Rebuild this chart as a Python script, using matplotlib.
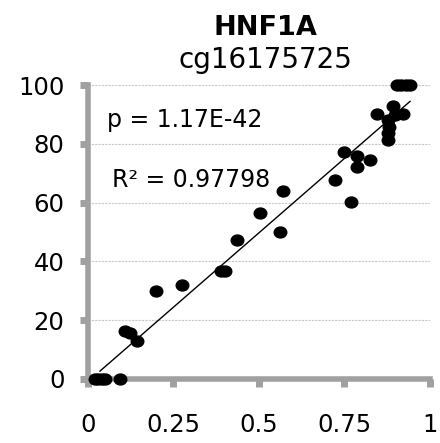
import numpy as np
import matplotlib.pyplot as plt
from matplotlib.path import Path

plt.rcParams['font.family'] = ['DejaVu Sans']

# methylation (x) vs percent (y)
beta = [0.02, 0.03, 0.04, 0.05, 0.094, 0.108, 0.123, 0.142, 0.20, 0.274,
        0.39, 0.40, 0.437, 0.503, 0.561, 0.571, 0.722, 0.75, 0.769, 0.786,
        0.788, 0.825, 0.844, 0.878, 0.878, 0.88, 0.878, 0.898, 0.893, 0.922,
        0.903, 0.915, 0.93, 0.942]
pct = [0, 0, 0, 0, 0, 16.4, 15.7, 12.8, 29.8, 31.9,
       36.7, 36.7, 47.3, 56.4, 49.9, 63.9, 67.7, 77.3, 60.3, 72.0,
       75.9, 74.5, 90.0, 81.3, 83.7, 85.8, 88.1, 89.8, 92.9, 90.0,
       100, 100, 100, 100]
title = 'HNF1A'
probe = 'cg16175725'
p_text = 'p = 1.17E-42'
r2_text = 'R² = 0.97798'
xticks = [0, 0.25, 0.5, 0.75, 1]
yticks = [0, 20, 40, 60, 80, 100]

beta = np.array(beta)
pct = np.array(pct)

fig = plt.figure(figsize=(4.4, 4.43), dpi=100)
ax = fig.add_axes([0.2, 0.145, 0.777, 0.663])

gray = '#A0A0A0'
for v in yticks[1:]:
    ax.axhline(v, color='#C8C8C8', lw=0.8, ls=(0, (2, 1)), zorder=0)

# slightly wide dots like the original
circ = Path.unit_circle()
dot = Path(circ.vertices * [1.15, 1.0], circ.codes)
ax.scatter(beta, pct, s=82, marker=dot, color='black', zorder=3, clip_on=False)

k, b = np.polyfit(beta, pct, 1)
xs = np.array([0.035, beta.max()])
ax.plot(xs, k * xs + b, color='black', lw=1, zorder=2)

ax.set_xlim(0, 1)
ax.set_ylim(0, 100)
ax.set_xticks(xticks)
ax.set_xticklabels(['0', '0.25', '0.5', '0.75', '1'])
ax.set_yticks(yticks)

for s in ['top', 'right']:
    ax.spines[s].set_visible(False)
for s in ['left', 'bottom']:
    ax.spines[s].set_color(gray)
    ax.spines[s].set_linewidth(4)
ax.tick_params(axis='both', colors=gray, width=5, length=6,
               labelsize=17.5, labelcolor='black')
ax.tick_params(axis='x', pad=19)
ax.tick_params(axis='y', pad=11)

ax.text(0.056, 88, p_text, fontsize=17, va='center', ha='left')
ax.text(0.07, 67.7, r2_text, fontsize=17, va='center', ha='left')

fig.text(0.603, 0.921, title, fontsize=19.5, fontweight='bold', ha='center', va='baseline')
fig.text(0.603, 0.846, probe, fontsize=20, ha='center', va='baseline')

fig.savefig('out.png', dpi=100)
